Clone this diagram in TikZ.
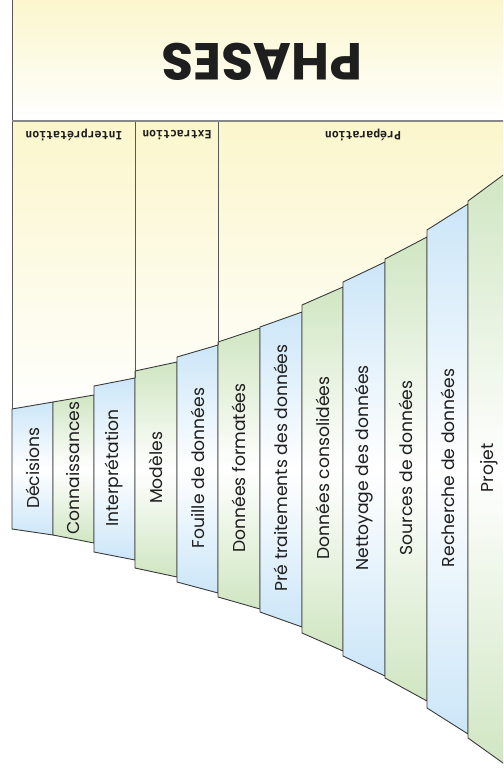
\documentclass[tikz,border=0pt]{standalone}
\usepackage{fontspec}
\setmainfont{Poppins}
\newfontfamily\phasefont{DejaVu Sans Mono Bold}
\definecolor{paleyellow}{RGB}{251,246,204}
\definecolor{paleblue}{RGB}{204,230,248}
\definecolor{palegreen}{RGB}{208,230,194}
\definecolor{edgegray}{RGB}{58,58,58}
\definecolor{rulegray}{RGB}{135,135,135}
\definecolor{ink}{RGB}{30,30,30}
\newcommand\drawband[9]{%
  \path[bandfill=#7] (#1,#3) -- (#2,#4) -- (#2,#6) -- (#1,#5) -- cycle;
  \node[bandlabel] (#9) at ({(#1+#2)/2},468) {#8};
}
\begin{document}
\begin{tikzpicture}[x=1pt,y=-1pt,
  bandfill/.style={draw=edgegray, line width=0.9pt, line join=miter,
    top color=#1, bottom color=#1, middle color=white},
  bandlabel/.style={rotate=90, inner sep=0pt, text=ink,
    font=\fontsize{17.2}{17.2}\selectfont},
  phaselabel/.style={rotate=180, inner sep=0pt, text=ink,
    font=\phasefont\fontsize{11.5}{12}\selectfont},
  titlelabel/.style={rotate=180, inner sep=0pt, text=ink,
    font=\bfseries\fontsize{52}{52}\selectfont},
  phaserule/.style={draw=edgegray!85, line width=0.9pt}]
\useasboundingbox (0,0) rectangle (503,775);
\clip (0,0) rectangle (503,775);

% header band and phase columns backgrounds
\path[top color=paleyellow, bottom color=white] (12,-2) rectangle (515,121);
\path[top color=paleyellow, bottom color=white] (12,122) rectangle (515,420);

% funnel strips
\drawband{12}{53}{409}{402}{529}{535}{paleblue}{Décisions}{decisions}
\drawband{53}{94}{402}{395}{535}{543}{palegreen}{Connaissances}{connaissances}
\drawband{94}{135}{386}{378}{552}{560}{paleblue}{Interprétation}{interpretation}
\drawband{135}{177}{371}{362}{568}{577}{palegreen}{Modèles}{modeles}
\drawband{177}{218}{357}{345}{582}{593}{paleblue}{Fouille de données}{fouille}
\drawband{218}{260}{342}{328}{597}{609}{palegreen}{Données formatées}{formatees}
\drawband{260}{302}{327}{312}{612}{627}{paleblue}{Pré traitements des données}{pretraitements}
\drawband{302}{343}{305}{287}{633}{651}{palegreen}{Données consolidées}{consolidees}
\drawband{343}{385}{282}{262}{656}{676}{paleblue}{Nettoyage des données}{nettoyage}
\drawband{385}{427}{259}{237}{678}{701}{palegreen}{Sources de données}{sources}
\drawband{427}{468}{230}{204}{708}{734}{paleblue}{Recherche de données}{recherche}
\drawband{468}{510}{201}{170}{738}{768}{palegreen}{Projet}{projet}

% frame of the header and phase separators
\coordinate (frametop) at (12,-2);
\coordinate (framefoot) at (12,409);
\coordinate (sepA) at (135,122);
\coordinate (sepAfoot) at (135,378);
\coordinate (sepB) at (218,122);
\coordinate (sepBfoot) at (218,345);
\coordinate (ruleL) at (12,121);
\coordinate (ruleR) at (515,121);
\draw[phaserule] (frametop) -- (framefoot);
\draw[phaserule] (sepA) -- (sepAfoot);
\draw[phaserule] (sepB) -- (sepBfoot);
\draw[draw=rulegray, line width=2pt] (ruleL) -- (ruleR);

% titles
\node[titlelabel] (title) at (262,62) {PHASES};
\node[phaselabel] (phinterp) at (74,135) {Interprétation};
\node[phaselabel] (phextract) at (177,135) {Extraction};
\node[phaselabel] (phprep) at (363,135) {Préparation};
\end{tikzpicture}
\end{document}
